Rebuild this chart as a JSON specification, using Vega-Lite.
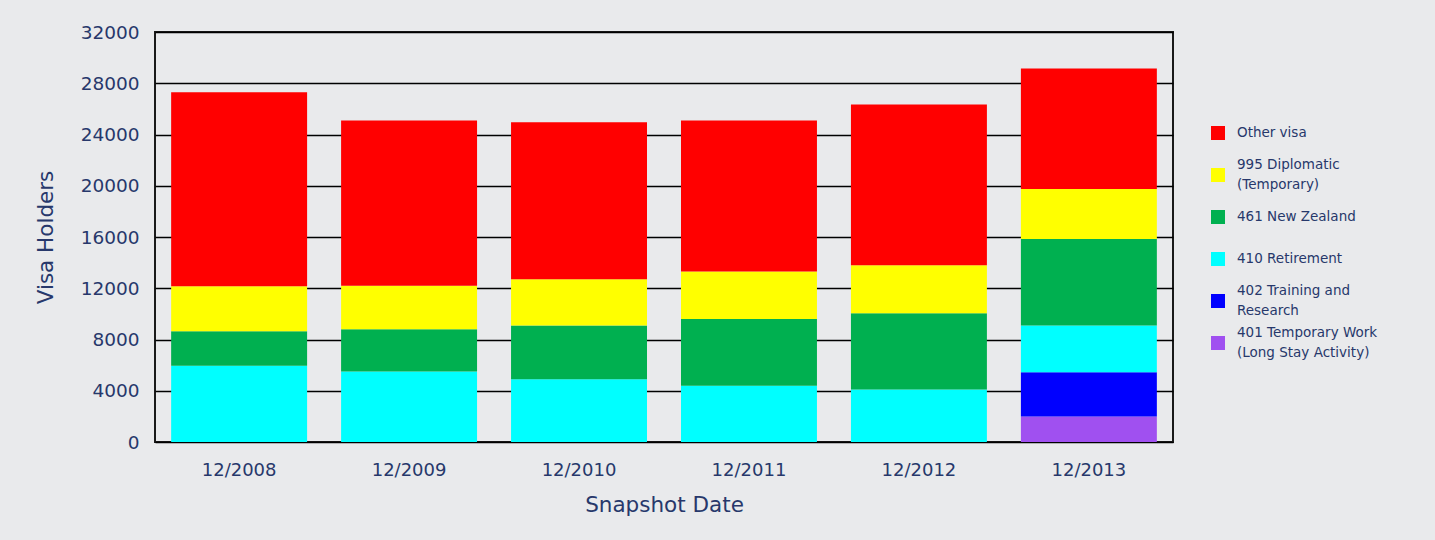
{
  "$schema": "https://vega.github.io/schema/vega-lite/v6.json",
  "width": 1018,
  "height": 410,
  "autosize": {"type": "none"},
  "padding": {"left": 155, "top": 32, "right": 262, "bottom": 98},
  "background": "#e9eaec",
  "config": {
    "view": {"stroke": "#1a1a1a", "strokeWidth": 2, "fill": "#e9eaec"},
    "font": "DejaVu Sans"
  },
  "data": {
    "values": [
      {"date": "12/2008", "visa": "410 Retirement", "holders": 5950},
      {"date": "12/2008", "visa": "461 New Zealand", "holders": 2700},
      {"date": "12/2008", "visa": "995 Diplomatic (Temporary)", "holders": 3500},
      {"date": "12/2008", "visa": "Other visa", "holders": 15150},
      {"date": "12/2009", "visa": "410 Retirement", "holders": 5500},
      {"date": "12/2009", "visa": "461 New Zealand", "holders": 3300},
      {"date": "12/2009", "visa": "995 Diplomatic (Temporary)", "holders": 3400},
      {"date": "12/2009", "visa": "Other visa", "holders": 12900},
      {"date": "12/2010", "visa": "410 Retirement", "holders": 4900},
      {"date": "12/2010", "visa": "461 New Zealand", "holders": 4200},
      {"date": "12/2010", "visa": "995 Diplomatic (Temporary)", "holders": 3600},
      {"date": "12/2010", "visa": "Other visa", "holders": 12250},
      {"date": "12/2011", "visa": "410 Retirement", "holders": 4400},
      {"date": "12/2011", "visa": "461 New Zealand", "holders": 5200},
      {"date": "12/2011", "visa": "995 Diplomatic (Temporary)", "holders": 3700},
      {"date": "12/2011", "visa": "Other visa", "holders": 11800},
      {"date": "12/2012", "visa": "410 Retirement", "holders": 4100},
      {"date": "12/2012", "visa": "461 New Zealand", "holders": 5950},
      {"date": "12/2012", "visa": "995 Diplomatic (Temporary)", "holders": 3750},
      {"date": "12/2012", "visa": "Other visa", "holders": 12550},
      {"date": "12/2013", "visa": "401 Temporary Work (Long Stay Activity)", "holders": 2000},
      {"date": "12/2013", "visa": "402 Training and Research", "holders": 3450},
      {"date": "12/2013", "visa": "410 Retirement", "holders": 3650},
      {"date": "12/2013", "visa": "461 New Zealand", "holders": 6750},
      {"date": "12/2013", "visa": "995 Diplomatic (Temporary)", "holders": 3900},
      {"date": "12/2013", "visa": "Other visa", "holders": 9400}
    ]
  },
  "mark": {"type": "bar"},
  "encoding": {
    "x": {
      "field": "date",
      "type": "nominal",
      "scale": {"paddingInner": 0.2, "paddingOuter": 0.095},
      "axis": {
        "title": "Snapshot Date",
        "labelAngle": 0,
        "domain": false,
        "ticks": false,
        "labelPadding": 19,
        "labelFontSize": 18,
        "labelColor": "#27386b",
        "titleFontSize": 21.5,
        "titleFontWeight": "normal",
        "titleColor": "#27386b",
        "titlePadding": 15
      }
    },
    "y": {
      "field": "holders",
      "type": "quantitative",
      "aggregate": "sum",
      "scale": {"domain": [0, 32000], "nice": false},
      "axis": {
        "title": "Visa Holders",
        "values": [0, 4000, 8000, 12000, 16000, 20000, 24000, 28000, 32000],
        "format": "d",
        "grid": true,
        "gridColor": "#000000",
        "gridWidth": 1.6,
        "gridOpacity": 1,
        "domain": false,
        "ticks": false,
        "labelPadding": 16,
        "labelFontSize": 18.5,
        "labelColor": "#27386b",
        "titleFontSize": 21.5,
        "titleFontWeight": "normal",
        "titleColor": "#27386b",
        "titlePadding": 23
      }
    },
    "color": {
      "field": "visa",
      "type": "nominal",
      "scale": {
        "domain": ["Other visa", "995 Diplomatic (Temporary)", "461 New Zealand", "410 Retirement", "402 Training and Research", "401 Temporary Work (Long Stay Activity)"],
        "range": ["#ff0000", "#ffff00", "#00b050", "#00ffff", "#0000ff", "#a050f0"]
      },
      "legend": {
        "title": null,
        "orient": "none",
        "legendX": 1056,
        "legendY": 94,
        "padding": 0,
        "symbolType": "square",
        "symbolSize": 196,
        "symbolStrokeWidth": 0,
        "symbolOpacity": 1,
        "labelFontSize": 13.5,
        "labelColor": "#27386b",
        "labelOffset": 12,
        "labelLimit": 300,
        "labelBaseline": "middle",
        "gridAlign": "all",
        "rowPadding": 8,
        "labelExpr": "datum.label == '995 Diplomatic (Temporary)' ? ['995 Diplomatic', '(Temporary)'] : datum.label == '402 Training and Research' ? ['402 Training and', 'Research'] : datum.label == '401 Temporary Work (Long Stay Activity)' ? ['401 Temporary Work', '(Long Stay Activity)'] : datum.label",
        "encode": {
          "labels": {
            "update": {
              "lineHeight": {"value": 20},
              "dy": {"signal": "indexof(['995 Diplomatic (Temporary)', '402 Training and Research', '401 Temporary Work (Long Stay Activity)'], datum.value) >= 0 ? -10 : 0"}
            }
          }
        }
      }
    },
    "order": {"field": "visa", "sort": "ascending"}
  }
}
